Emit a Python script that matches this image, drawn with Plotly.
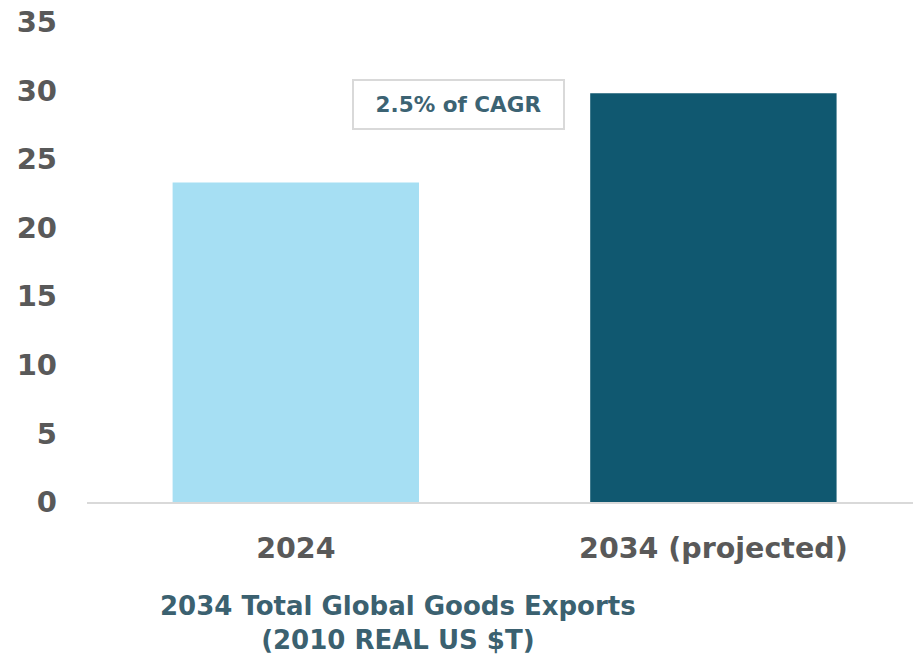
import plotly.graph_objects as go

categories = ["2024", "2034 (projected)"]
values = [23.3, 29.8]
bar_colors = ["#A6DFF3", "#105870"]
y_ticks = [0, 5, 10, 15, 20, 25, 30, 35]
title_text = "2034 Total Global Goods Exports<br>(2010 REAL US $T)"
note_text = "2.5% of CAGR"

FONT = "DejaVu Sans"

fig = go.Figure()
fig.add_trace(go.Bar(
    x=categories, y=values,
    marker=dict(color=bar_colors, line=dict(width=0)),
    width=0.59,
    hoverinfo="skip",
))

fig.update_layout(
    width=913, height=658,
    margin=dict(l=87, r=0, t=22, b=156),
    paper_bgcolor="white", plot_bgcolor="white",
    showlegend=False, hovermode=False,
    font=dict(family=FONT),
    xaxis=dict(
        range=[-0.5, 1.478],
        showgrid=False, zeroline=False,
        showline=True, linecolor="#D9D9D9", linewidth=2,
        ticks="", ticklabelstandoff=20, automargin=False,
        ticklabeloverflow="allow",
        tickfont=dict(family=FONT, size=28.5, color="#595959", weight="bold"),
    ),
    yaxis=dict(
        range=[0, 35], tickvals=y_ticks,
        showgrid=False, zeroline=False, showline=False,
        ticks="", ticklabelstandoff=29, automargin=False,
        ticklabeloverflow="allow",
        tickfont=dict(family=FONT, size=29, color="#595959", weight="bold"),
    ),
    annotations=[
        dict(
            text=note_text, xref="paper", yref="y",
            x=(458.5 - 87) / 826, y=(502 - 104.5) / (480 / 35),
            xanchor="center", yanchor="middle", showarrow=False,
            font=dict(family=FONT, size=21.5, color="#3C6373", weight="bold"),
            bordercolor="#D9D9D9", borderwidth=2, borderpad=0,
            width=209, height=47, bgcolor="white",
        ),
        dict(
            text=title_text, xref="paper", yref="paper",
            x=(398 - 87) / 826, y=(502 - 623) / 480,
            xanchor="center", yanchor="middle", showarrow=False,
            font=dict(family=FONT, size=26, color="#3B6170", weight="bold"),
            align="center",
        ),
    ],
)

# remove the page's default 8px body margin so the figure fills the window exactly
fig.write_html(
    "out.html",
    config={"displayModeBar": False, "staticPlot": True},
    post_script="document.body.style.margin='0px';",
)
